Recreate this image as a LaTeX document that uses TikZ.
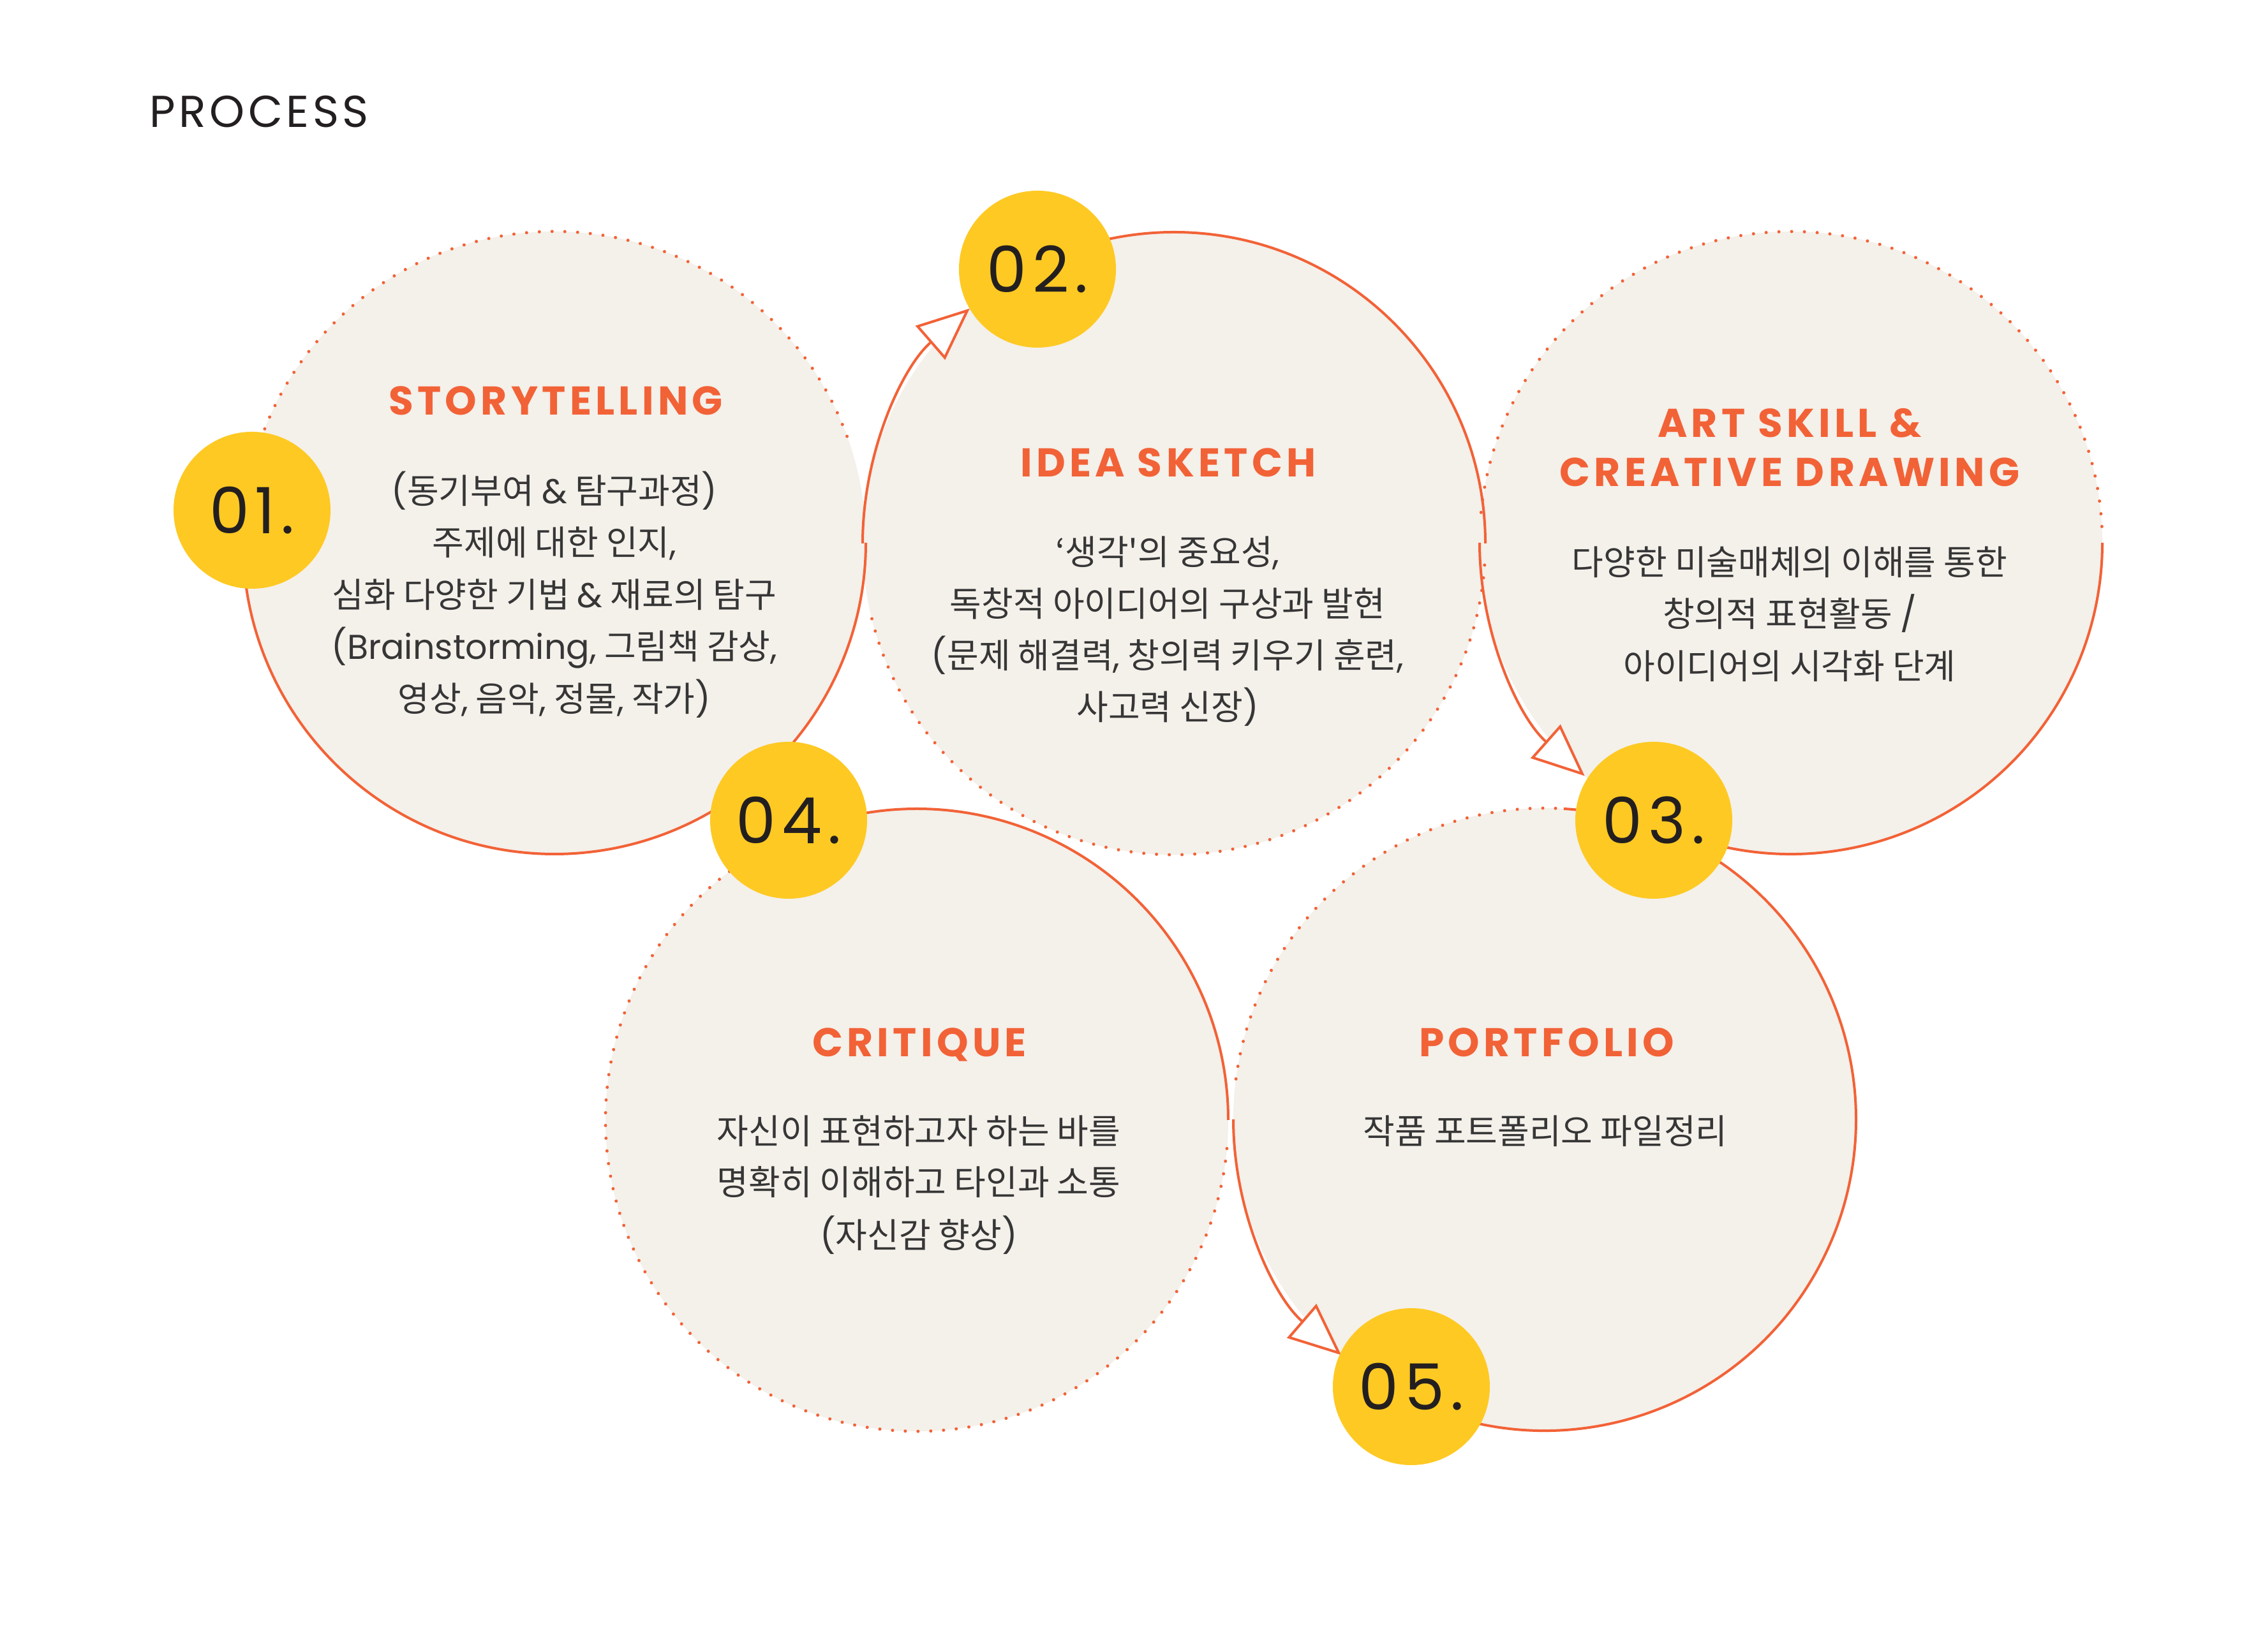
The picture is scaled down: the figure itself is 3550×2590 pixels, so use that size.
\documentclass[tikz,border=0pt]{standalone}
\usepackage{fontspec}
\setmainfont{Poppins}
\newfontfamily\popfont{Poppins}
\newfontfamily\prcfont{Poppins}[LetterSpace=8]
\newfontfamily\badgefont{Poppins}[LetterSpace=9]
\newfontfamily\ttlfont{Poppins}[LetterSpace=10]
\newfontfamily\krfont{Noto Sans CJK KR}
\usetikzlibrary{arrows.meta}
\definecolor{beige}{HTML}{F4F0EA}
\definecolor{orng}{HTML}{F26237}
\definecolor{yel}{HTML}{FEC923}
\definecolor{ink}{HTML}{231F20}
\definecolor{bodyc}{HTML}{363636}
\newcommand\pp[1]{{\popfont #1}}
\begin{document}
\begin{tikzpicture}[x=1pt,y=1pt,
  bigcirc/.style={circle, fill=beige, minimum size=976pt, inner sep=0pt},
  badge/.style={circle, fill=yel, minimum size=246pt, inner sep=0pt, text=ink,
    font=\badgefont\fontsize{100}{110}\selectfont},
  solidline/.style={draw=orng, line width=4pt},
  dotline/.style={draw=orng, line width=5pt, line cap=round, dash pattern=on 0pt off 20pt},
  arrowline/.style={solidline, -{Triangle[length=82pt,width=70pt,fill=white]}},
  ttl/.style={inner sep=0pt, anchor=base, text=orng, font=\ttlfont\bfseries\fontsize{63}{70}\selectfont},
  bodytxt/.style={inner sep=0pt, anchor=base, text=bodyc, font=\krfont\fontsize{54}{60}\selectfont}]
\fill[white] (0,0) rectangle (3550,2590);
\useasboundingbox (0,0) rectangle (3550,2590);

\node[inner sep=0pt, anchor=base west, text=ink, font=\prcfont\fontsize{70}{80}\selectfont] (proc) at (234,2390) {PROCESS};

% circles
\node[bigcirc] (c1) at (869,1739) {};
\node[bigcirc] (c2) at (1840,1738) {};
\node[bigcirc] (c3) at (2807,1739) {};
\node[bigcirc] (c4) at (1437,834) {};
\node[bigcirc] (c5) at (2421,835) {};

% dotted arcs
\draw[dotline] (c1.center) ++(20:488pt) arc[start angle=20, end angle=160, radius=488pt];
\draw[dotline] (c2.center) ++(194:488pt) arc[start angle=194, end angle=357, radius=488pt];
\draw[dotline] (c3.center) ++(3:488pt) arc[start angle=3, end angle=175, radius=488pt];
\draw[dotline] (c4.center) ++(127:488pt) arc[start angle=127, end angle=357, radius=488pt];
\draw[dotline] (c5.center) ++(88:488pt) arc[start angle=88, end angle=174, radius=488pt];

% solid arcs
\draw[solidline] (c1.center) ++(175:488pt) arc[start angle=175, end angle=360, radius=488pt];
\draw[solidline] (c2.center) ++(0:488pt) arc[start angle=0, end angle=116, radius=488pt];
\draw[arrowline] (c2.center) ++(180:488pt) arc[start angle=180, end angle=131, radius=488pt];
\draw[arrowline] (c3.center) ++(180:488pt) arc[start angle=180, end angle=228.5, radius=488pt];
\draw[solidline] (c3.center) ++(244:488pt) arc[start angle=244, end angle=360, radius=488pt];
\draw[solidline] (c4.center) ++(0:488pt) arc[start angle=0, end angle=113, radius=488pt];
\draw[arrowline] (c5.center) ++(180:488pt) arc[start angle=180, end angle=229.2, radius=488pt];
\draw[solidline] (c5.center) ++(245:488pt) arc[start angle=245, end angle=446.5, radius=488pt];

% badges
\node[badge] (b1) at (395,1790) {01.};
\node[badge] (b2) at (1626,2168) {02.};
\node[badge] (b3) at (2592,1304) {03.};
\node[badge] (b4) at (1236,1304) {04.};
\node[badge] (b5) at (2212,416) {05.};

% titles
\node[ttl] (t1) at (871,1939) {STORYTELLING};
\node[ttl] (t2) at (1831,1842) {IDEA SKETCH};
\node[ttl] (t3a) at (2805,1904) {ART SKILL \&};
\node[ttl] (t3b) at (2805,1827) {CREATIVE DRAWING};
\node[ttl] (t4) at (1441,933) {CRITIQUE};
\node[ttl] (t5) at (2424,933) {PORTFOLIO};

% body texts
\node[bodytxt] (l1a) at (869,1800) {\pp{(}동기부여 \pp{\&} 탐구과정\pp{)}};
\node[bodytxt] (l1b) at (869,1719) {주제에 대한 인지\pp{,}};
\node[bodytxt] (l1c) at (869,1637) {심화 다양한 기법 \pp{\&} 재료의 탐구};
\node[bodytxt] (l1d) at (869,1556) {\pp{(Brainstorming,} 그림책 감상\pp{,}};
\node[bodytxt] (l1e) at (869,1474) {영상\pp{,} 음악\pp{,} 정물\pp{,} 작가\pp{)}};

\node[bodytxt] (l2a) at (1830,1704) {‘생각'의 중요성\pp{,}};
\node[bodytxt] (l2b) at (1830,1623) {독창적 아이디어의 구상과 발현};
\node[bodytxt] (l2c) at (1830,1542) {\pp{(}문제 해결력\pp{,} 창의력 키우기 훈련\pp{,}};
\node[bodytxt] (l2d) at (1830,1461) {사고력 신장\pp{)}};

\node[bodytxt] (l3a) at (2805,1688) {다양한 미술매체의 이해를 통한};
\node[bodytxt] (l3b) at (2805,1607) {창의적 표현활동 \pp{/}};
\node[bodytxt] (l3c) at (2805,1525) {아이디어의 시각화 단계};

\node[bodytxt] (l4a) at (1440,796) {자신이 표현하고자 하는 바를};
\node[bodytxt] (l4b) at (1440,716) {명확히 이해하고 타인과 소통};
\node[bodytxt] (l4c) at (1440,633) {\pp{(}자신감 향상\pp{)}};

\node[bodytxt] (l5a) at (2422,796) {작품 포트폴리오 파일정리};
\end{tikzpicture}
\end{document}
